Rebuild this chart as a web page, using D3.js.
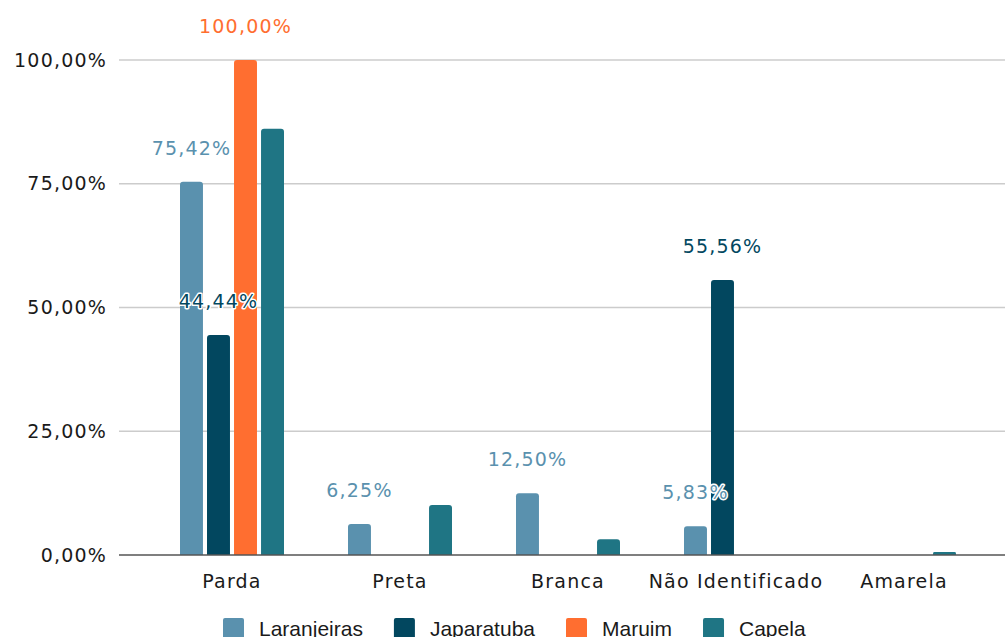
<!DOCTYPE html>
<html>
<head>
<meta charset="utf-8">
<script src="https://cdn.jsdelivr.net/npm/d3@7"></script>
<style>
  body { margin: 0; background: #fff; }
  svg { display: block; }
</style>
</head>
<body>
<div id="chart"></div>
<script>
const categories = ["Parda", "Preta", "Branca", "Não Identificado", "Amarela"];
const seriesNames = ["Laranjeiras", "Japaratuba", "Maruim", "Capela"];
const laranjeiras = [75.42, 6.25, 12.50, 5.83, 0];
const japaratuba = [44.44, 0, 0, 55.56, 0];
const maruim = [100, 0, 0, 0, 0];
const capela = [86.1, 10.1, 3.2, 0, 0.6];
const labeledSeries = ["Laranjeiras", "Japaratuba", "Maruim"];
const yTicks = [0, 25, 50, 75, 100];

const colors = ["#5a91ae", "#02475f", "#ff6e30", "#1f7584"];

const W = 1005, H = 637;
const fmt = v => v.toFixed(2).replace(".", ",") + "%";

const svg = d3.select("#chart").append("svg")
  .attr("width", W)
  .attr("height", H);

const x = d3.scaleBand()
  .domain(categories)
  .range([148, 988]);

const xSub = d3.scaleBand()
  .domain(seriesNames)
  .range([-52, 52])
  .paddingInner(0.15);

const y = d3.scaleLinear()
  .domain([0, 100])
  .range([555, 60]);

const color = d3.scaleOrdinal().domain(seriesNames).range(colors);

const valueFont = "'DejaVu Sans', Verdana, sans-serif";

// gridlines
svg.append("g")
  .selectAll("line")
  .data(yTicks.filter(d => d > 0))
  .join("line")
  .attr("x1", 119)
  .attr("x2", W)
  .attr("y1", d => y(d))
  .attr("y2", d => y(d))
  .attr("stroke", "#cccccc")
  .attr("stroke-width", 1.3);

// y axis labels
const yAxis = svg.append("g")
  .attr("transform", "translate(119,0)")
  .call(d3.axisLeft(y).tickValues(yTicks).tickFormat(fmt).tickSize(0).tickPadding(12));
yAxis.select(".domain").remove();
yAxis.selectAll("text")
  .attr("font-family", valueFont)
  .attr("font-size", 19)
  .attr("letter-spacing", "1.2px")
  .attr("fill", "#1a1a1a");

const rows = seriesNames.map((s, i) => ({
  name: s,
  values: [laranjeiras, japaratuba, maruim, capela][i]
}));

const bars = rows.flatMap(r => r.values.map((v, j) => ({ series: r.name, cat: categories[j], value: v })));

// rounded-top bar path
function barPath(d) {
  const x0 = x(d.cat) + x.bandwidth() / 2 + xSub(d.series);
  const w = xSub.bandwidth();
  const y0 = y(0), y1 = y(d.value);
  const r = Math.min(3, (y0 - y1) / 2);
  return `M${x0},${y0}V${y1 + r}Q${x0},${y1} ${x0 + r},${y1}H${x0 + w - r}Q${x0 + w},${y1} ${x0 + w},${y1 + r}V${y0}Z`;
}

svg.append("g")
  .selectAll("path")
  .data(bars.filter(d => d.value > 0))
  .join("path")
  .attr("d", barPath)
  .attr("fill", d => color(d.series));

// x axis
const xAxis = svg.append("g")
  .attr("transform", `translate(0,${y(0)})`)
  .call(d3.axisBottom(x).tickSize(0).tickPadding(19.5));
xAxis.select(".domain").remove();
xAxis.selectAll("text")
  .attr("font-family", valueFont)
  .attr("font-size", 19)
  .attr("letter-spacing", "1.2px")
  .attr("fill", "#1a1a1a");

svg.append("line")
  .attr("x1", 119)
  .attr("x2", W)
  .attr("y1", y(0))
  .attr("y2", y(0))
  .attr("stroke", "#555")
  .attr("stroke-width", 1.5);

// value labels
svg.append("g")
  .selectAll("text")
  .data(bars.filter(d => d.value > 0 && labeledSeries.includes(d.series)))
  .join("text")
  .attr("x", d => x(d.cat) + x.bandwidth() / 2 + xSub(d.series) + xSub.bandwidth() / 2)
  .attr("y", d => y(d.value) - 27)
  .attr("text-anchor", "middle")
  .attr("font-family", valueFont)
  .attr("font-size", 19)
  .attr("letter-spacing", "1.2px")
  .attr("fill", d => color(d.series))
  .attr("stroke", "#fff")
  .attr("stroke-width", 3)
  .attr("stroke-linejoin", "round")
  .attr("paint-order", "stroke")
  .text(d => fmt(d.value));

// legend
const legend = svg.append("g").attr("transform", "translate(223,618)");
let lx = 0;
seriesNames.forEach(s => {
  const g = legend.append("g").attr("transform", `translate(${lx},0)`);
  g.append("rect")
    .attr("width", 21)
    .attr("height", 22)
    .attr("rx", 2)
    .attr("fill", color(s));
  const t = g.append("text")
    .attr("x", 36)
    .attr("y", 18)
    .attr("font-family", "'Liberation Sans', Arial, sans-serif")
    .attr("font-size", 21)
    .attr("fill", "#1a1a1a")
    .text(s);
  lx += 36 + t.node().getComputedTextLength() + 31;
});
</script>
</body>
</html>
